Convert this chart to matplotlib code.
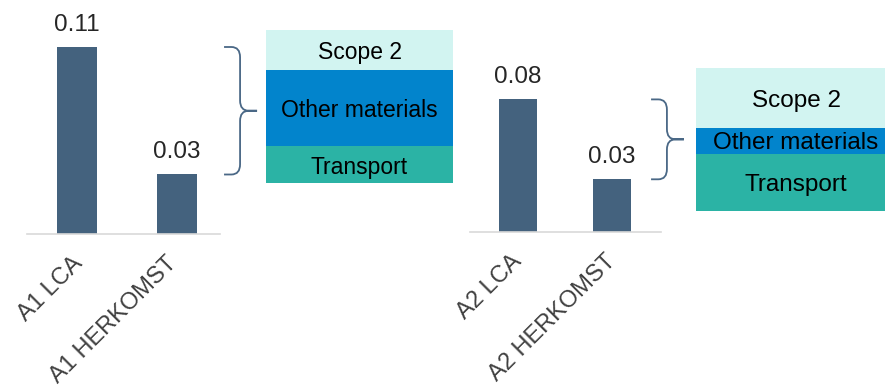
import numpy as np
import matplotlib.pyplot as plt
from matplotlib.path import Path
from matplotlib.patches import PathPatch
import matplotlib.transforms as mtransforms

plt.rcParams['font.family'] = ['Liberation Sans', 'DejaVu Sans']

##---- Data ----##

left_categories = ["A1 LCA", "A1 HERKOMST"]
left_values = [0.110, 0.035]
left_labels = ["0.11", "0.03"]

right_categories = ["A2 LCA", "A2 HERKOMST"]
right_values = [0.078, 0.031]
right_labels = ["0.08", "0.03"]

# breakdown boxes, bottom -> top (share of the difference, %)
segment_names = ["Transport", "Other materials", "Scope 2"]
left_shares = [24, 50, 26]
right_shares = [40, 18, 42]

##---- Style ----##

BAR_COLOR = "#44627e"
BRACE_COLOR = "#4a6886"
AXIS_COLOR = "#d9d9d9"
SEGMENT_COLORS = ["#2bb3a5", "#0284cc", "#d2f4f1"]

W, H = 885, 389
fig = plt.figure(figsize=(W / 100, H / 100), dpi=100)


def px_axes(x0, y0, x1, y1):
    # pixel box (top-left origin) -> figure axes
    return fig.add_axes([x0 / W, 1 - y1 / H, (x1 - x0) / W, (y1 - y0) / H])


def bar_panel(ax, cats, vals, labels, xlim, label_shift):
    x = np.arange(len(cats))
    ax.bar(x, vals, width=0.4, color=BAR_COLOR)
    for xi, v, lab in zip(x, vals, labels):
        ax.annotate(lab, (xi, v), xytext=(0, 8), textcoords="offset points",
                    ha="center", va="bottom", fontsize=17.5, color="#262626")
    ax.set_xlim(*xlim)
    ax.set_ylim(0, 0.13)
    ax.set_xticks(x)
    ax.set_xticklabels(cats, rotation=45, ha="right", rotation_mode="anchor",
                       fontsize=17, color="#404040")
    ax.tick_params(axis="x", length=0, pad=13.5)
    # small nudges so the rotated labels sit like the original
    for lab, dx in zip(ax.get_xticklabels(), label_shift):
        lab.set_transform(lab.get_transform() +
                          mtransforms.ScaledTranslation(dx / 100, 0, fig.dpi_scale_trans))
    ax.set_yticks([])
    for s in ["left", "right", "top"]:
        ax.spines[s].set_visible(False)
    ax.spines["bottom"].set_color(AXIS_COLOR)
    ax.spines["bottom"].set_linewidth(1.2)
    ax.patch.set_alpha(0)


def brace(ax, top, bot, x0, x1, x2, rx=0.045, ry=0.006):
    trans = mtransforms.blended_transform_factory(ax.transAxes, ax.transData)
    mid = (top + bot) / 2
    verts, codes = [], []
    for y_end, sgn in [(top, -1), (bot, 1)]:
        verts += [(x0, y_end), (x1 - rx, y_end), (x1, y_end), (x1, y_end + sgn * ry),
                  (x1, mid - sgn * ry), (x1, mid), (x1 + rx, mid), (x2, mid)]
        codes += [Path.MOVETO, Path.LINETO, Path.CURVE3, Path.CURVE3,
                  Path.LINETO, Path.CURVE3, Path.CURVE3, Path.LINETO]
    ax.add_patch(PathPatch(Path(verts, codes), transform=trans, fill=False,
                           edgecolor=BRACE_COLOR, lw=1.3, clip_on=False))


def box_panel(ax, shares, fontsize):
    bottom = 0
    for name, share, col in zip(segment_names, shares, SEGMENT_COLORS):
        ax.bar([0], [share], bottom=bottom, width=1, color=col)
        ax.text(0, bottom + share / 2, name, ha="center", va="center_baseline",
                fontsize=fontsize, color="black")
        bottom += share
    ax.set_xlim(-0.5, 0.5)
    ax.set_ylim(0, bottom)
    ax.axis("off")


##---- Left panel ----##

ax1 = px_axes(27, 13, 220, 234)
bar_panel(ax1, left_categories, left_values, left_labels, (-0.5, 1.43), [-5, -11])
brace(ax1, left_values[0], left_values[1], 1.021, 1.104, 1.192)

box1 = px_axes(266, 30, 453, 183)
box_panel(box1, left_shares, 16.5)

##---- Right panel ----##

ax2 = px_axes(470, 11, 661, 232)
bar_panel(ax2, right_categories, right_values, right_labels, (-0.503, 1.516), [-7, -8])
brace(ax2, right_values[0], right_values[1], 0.948, 1.031, 1.120)

box2 = px_axes(696, 68, 896, 211)
box_panel(box2, right_shares, 17.5)

fig.savefig("out.png", dpi=100)
